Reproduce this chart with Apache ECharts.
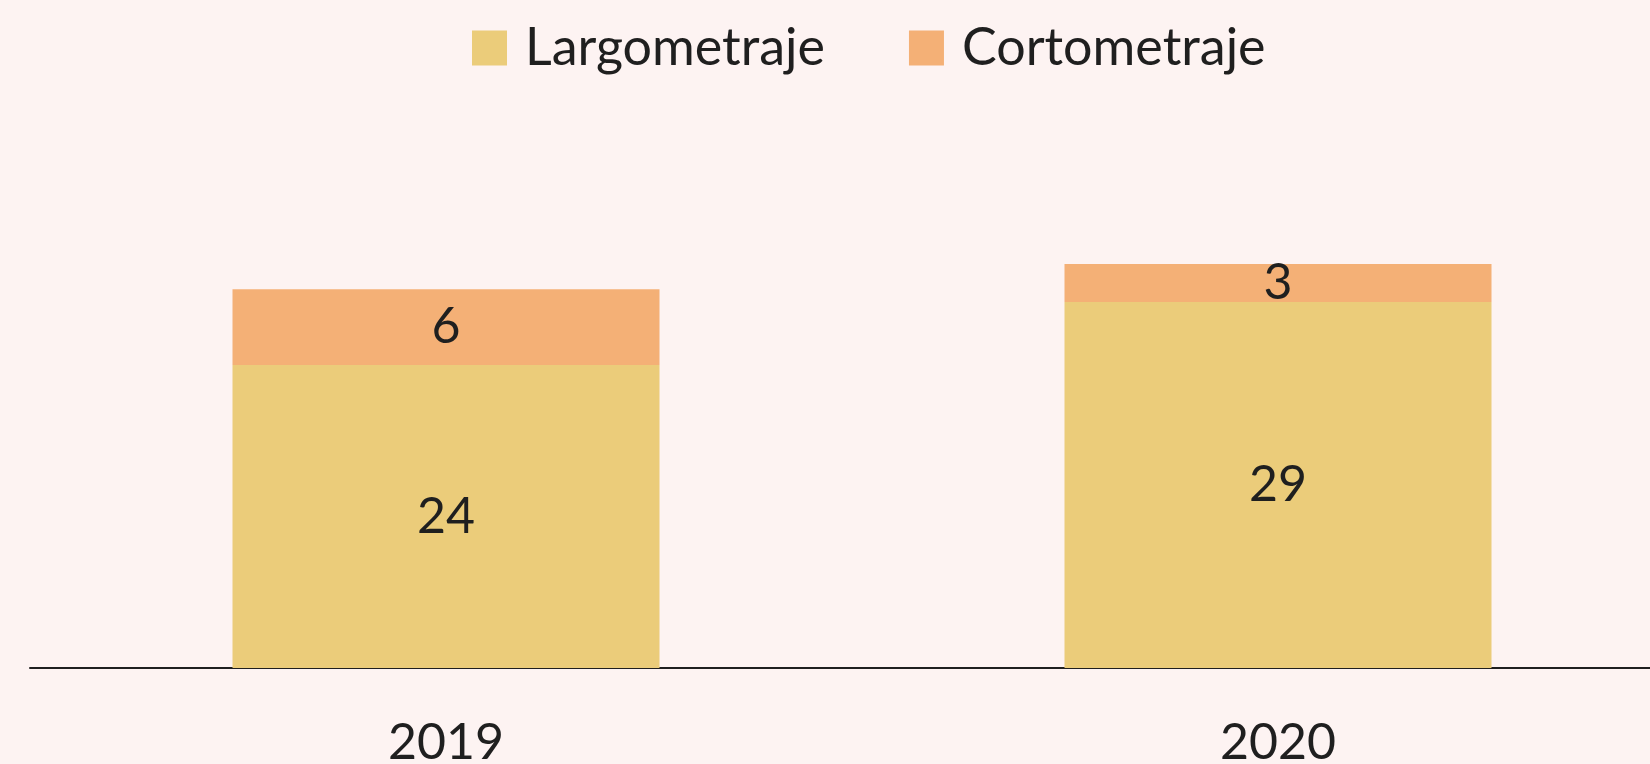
<!DOCTYPE html>
<html>
<head>
<meta charset="utf-8">
<script src="https://cdn.jsdelivr.net/npm/echarts@6/dist/echarts.min.js"></script>
<style>
  html, body { margin: 0; padding: 0; background: #FDF3F2; }
  #chart { width: 1650px; height: 764px; }
</style>
</head>
<body>
<div id="chart"></div>
<script>
const years = ['2019', '2020'];
const largometraje = [24, 29];
const cortometraje = [6, 3];

const chart = echarts.init(document.getElementById('chart'));
const font = 'Lato';
const labelStyle = { show: true, position: 'inside', color: '#1f1f1f', fontSize: 50, fontFamily: font };

chart.setOption({
    backgroundColor: '#FDF3F2',
    legend: {
        data: ['Largometraje', 'Cortometraje'],
        top: 17,
        left: 467,
        itemWidth: 35,
        itemHeight: 35,
        itemGap: 84,
        icon: 'rect',
        textStyle: { color: '#1f1f1f', fontSize: 52, fontFamily: font, padding: [0, 0, 0, 13] }
    },
    grid: { left: 30, top: 163, width: 1664, bottom: 96, outerBoundsMode: 'none' },
    xAxis: {
        type: 'category',
        data: years,
        axisLine: { show: true, lineStyle: { color: '#1f1f1f', width: 2 } },
        axisTick: { show: false },
        axisLabel: { color: '#1f1f1f', fontSize: 50, fontFamily: font, margin: 50 }
    },
    yAxis: {
        type: 'value',
        min: 0,
        max: 40,
        show: false
    },
    series: [
        {
            name: 'Largometraje',
            type: 'bar',
            stack: 'total',
            data: largometraje,
            barWidth: 427,
            itemStyle: { color: '#EBCC7A' },
            label: labelStyle
        },
        {
            name: 'Cortometraje',
            type: 'bar',
            stack: 'total',
            data: cortometraje,
            barWidth: 427,
            itemStyle: { color: '#F4B076' },
            label: labelStyle
        }
    ]
});
</script>
</body>
</html>
